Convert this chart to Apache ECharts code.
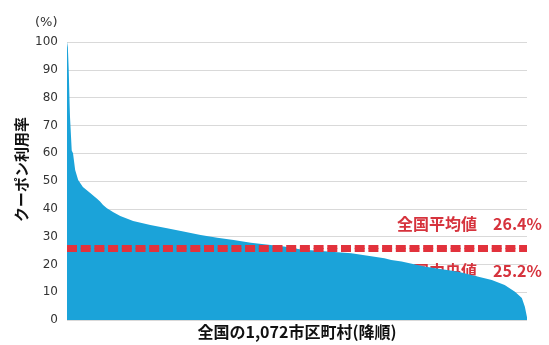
<!DOCTYPE html>
<html><head><meta charset="utf-8">
<script src="https://cdn.jsdelivr.net/npm/echarts@6/dist/echarts.min.js"></script>
<style>html,body{margin:0;padding:0;background:#fff}#c{width:549px;height:345px}</style>
</head><body><div id="c"></div>
<script>
var ranks = [1, 3, 5, 7, 8, 12, 15, 20, 27, 38, 55, 71, 78, 85, 94, 109, 125, 155, 195, 234, 272, 312, 351, 389, 429, 506, 546, 600, 663, 740, 756, 780, 833, 912, 959, 990, 1020, 1044, 1060, 1067, 1072];
// coupon usage rate (%)
var rates = [100, 98, 90, 78, 73, 61, 60, 54, 50.4, 47.8, 45.7, 43.6, 42.6, 41.4, 40.2, 38.8, 37.4, 35.6, 34.2, 33, 31.8, 30.6, 29.6, 28.8, 27.8, 26.4, 25.4, 24.7, 24, 22.2, 21.6, 21, 19.2, 17.4, 15.6, 14.4, 12.6, 10.2, 7.9, 4.8, 1];
var avgValue = 26.4, medianValue = 25.2;
var avgLabel = '全国平均値\u300026.4%';
var medLabel = '全国中央値\u300025.2%';
var yTicks = [0, 10, 20, 30, 40, 50, 60, 70, 80, 90, 100];
var xName = '全国の1,072市区町村(降順)';
var yName = 'クーポン利用率';

var pts = ranks.map(function (r, i) { return [r, rates[i]]; });
var jp = '"Noto Sans CJK JP", sans-serif';
var red = '#e2323c';
var chart = echarts.init(document.getElementById('c'));
chart.setOption({
  animation: false,
  grid: { left: 67, right: 22, top: 42, bottom: 25, containLabel: false, outerBoundsMode: 'none' },
  xAxis: {
    type: 'value', min: 1, max: 1072,
    axisLine: { show: false }, axisTick: { show: false }, axisLabel: { show: false }, splitLine: { show: false },
    name: xName, nameLocation: 'middle', nameGap: 4,
    nameTextStyle: { fontFamily: jp, fontWeight: 'bold', fontSize: 16, color: '#111' }
  },
  yAxis: {
    type: 'value', min: yTicks[0], max: yTicks[yTicks.length - 1], interval: 10,
    axisLine: { show: false }, axisTick: { show: false },
    axisLabel: { fontFamily: 'DejaVu Sans', fontSize: 12, color: '#333', margin: 9 },
    splitLine: { lineStyle: { color: '#d9d9d9', width: 1 } }
  },
  series: [{
    type: 'line', data: pts, symbol: 'none',
    lineStyle: { width: 0 },
    areaStyle: { color: '#1ba3d9', opacity: 1 },
    itemStyle: { color: '#1ba3d9' },
    markLine: {
      symbol: 'none', silent: true,
      label: { show: false },
      lineStyle: { color: red, width: 4, type: [10, 3.7] },
      data: [{ yAxis: avgValue }, { yAxis: medianValue }]
    }
  }]
});
var pa = chart.convertToPixel({ gridIndex: 0 }, [1, avgValue]);
var pm = chart.convertToPixel({ gridIndex: 0 }, [1, medianValue]);
chart.setOption({
  graphic: [
    { type: 'text', left: 397, top: pa[1] - 31, style: { text: avgLabel, fill: '#d6333d', font: 'bold 16px ' + jp } },
    { type: 'text', left: 397, top: pm[1] + 13, style: { text: medLabel, fill: '#d6333d', font: 'bold 16px ' + jp } },
    { type: 'text', left: 35, top: 16, style: { text: '(%)', fill: '#333', font: '13px "DejaVu Sans"' } },
    { type: 'text', x: 14, y: 222, rotation: Math.PI / 2, style: { text: yName, fill: '#111', font: 'bold 15px ' + jp, textAlign: 'left', textVerticalAlign: 'top' } }
  ]
});
</script></body></html>
